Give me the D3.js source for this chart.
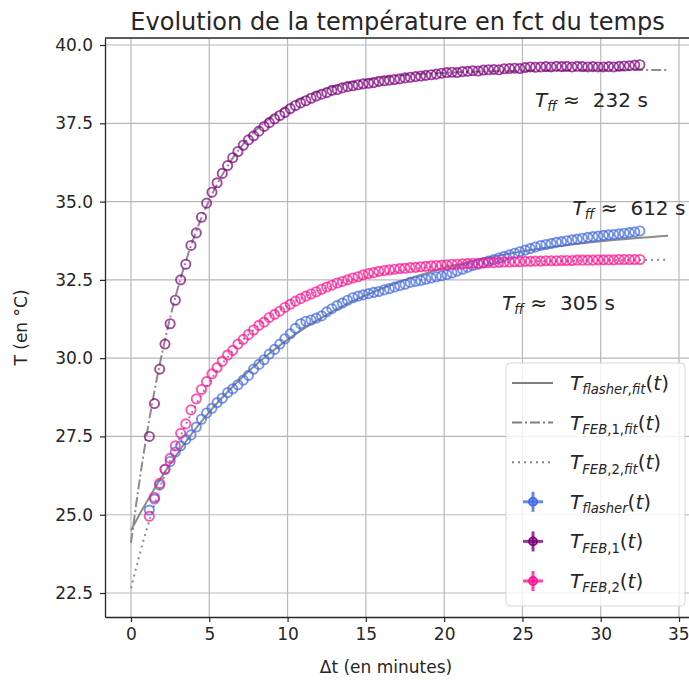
<!DOCTYPE html>
<html><head><meta charset="utf-8">
<script src="https://cdn.jsdelivr.net/npm/d3@7"></script>
<style>body{margin:0;background:#fff} svg{display:block} text{font-family:"DejaVu Sans",sans-serif}</style>
</head><body><svg id="c" width="689" height="684"></svg>
<script>
// ---- data (minutes, °C) ----
const times = [1.17,1.5,1.83,2.17,2.5,2.83,3.17,3.5,3.83,4.17,4.5,4.83,5.17,5.5,5.83,6.17,6.5,6.83,7.17,7.5,7.83,8.17,8.5,8.83,9.17,9.5,9.83,10.17,10.5,10.83,11.17,11.5,11.83,12.17,12.5,12.83,13.17,13.5,13.83,14.17,14.5,14.83,15.17,15.5,15.83,16.17,16.5,16.83,17.17,17.5,17.83,18.17,18.5,18.83,19.17,19.5,19.83,20.17,20.5,20.83,21.17,21.5,21.83,22.17,22.5,22.83,23.17,23.5,23.83,24.17,24.5,24.83,25.17,25.5,25.83,26.17,26.5,26.83,27.17,27.5,27.83,28.17,28.5,28.83,29.17,29.5,29.83,30.17,30.5,30.83,31.17,31.5,31.83,32.17,32.5];
const tFlasher = [25.15,25.5,25.95,26.45,26.7,27.0,27.2,27.4,27.55,27.8,
 28.05,28.25,28.4,28.58,28.72,28.9,29.02,29.15,29.3,29.45,
 29.65,29.8,29.95,30.13,30.28,30.45,30.62,30.78,30.95,31.1,
 31.18,31.22,31.28,31.35,31.48,31.58,31.68,31.76,31.85,31.93,
 31.98,32.02,32.06,32.1,32.13,32.18,32.22,32.27,32.32,32.36,
 32.42,32.45,32.48,32.52,32.56,32.6,32.63,32.67,32.72,32.78,
 32.84,32.9,32.96,33.0,33.05,33.1,33.15,33.2,33.25,33.3,
 33.35,33.4,33.45,33.5,33.55,33.6,33.63,33.66,33.7,33.72,
 33.75,33.78,33.8,33.83,33.86,33.88,33.9,33.92,33.94,33.95,
 33.97,33.99,34.01,34.03,34.06];
const tFeb1 = [27.5,28.55,29.65,30.45,31.1,31.85,32.5,33.0,33.6,34.0,
 34.5,34.95,35.3,35.6,35.9,36.15,36.4,36.6,36.8,36.97,
 37.1,37.25,37.4,37.52,37.64,37.75,37.85,37.97,38.07,38.15,
 38.22,38.3,38.37,38.43,38.48,38.55,38.58,38.63,38.67,38.7,
 38.73,38.76,38.78,38.8,38.84,38.86,38.88,38.9,38.92,38.95,
 38.97,38.99,39.01,39.03,39.05,39.07,39.1,39.12,39.13,39.12,
 39.15,39.16,39.18,39.17,39.2,39.21,39.22,39.21,39.24,39.25,
 39.26,39.25,39.28,39.3,39.29,39.3,39.31,39.3,39.32,39.31,
 39.32,39.3,39.32,39.31,39.3,39.31,39.3,39.3,39.31,39.3,
 39.32,39.33,39.34,39.36,39.37];
const tFeb2 = [24.95,25.55,26.0,26.45,26.8,27.2,27.6,27.9,28.35,28.7,
 29.0,29.25,29.5,29.7,29.9,30.1,30.25,30.45,30.6,30.75,
 30.9,31.05,31.15,31.3,31.4,31.5,31.62,31.72,31.82,31.9,
 31.98,32.05,32.12,32.2,32.27,32.33,32.4,32.45,32.5,32.56,
 32.6,32.66,32.7,32.73,32.77,32.8,32.82,32.84,32.86,32.87,
 32.89,32.9,32.92,32.93,32.95,32.96,32.97,32.98,33.0,33.0,
 33.01,33.02,33.03,33.03,33.04,33.05,33.05,33.06,33.07,33.07,
 33.08,33.08,33.09,33.09,33.1,33.1,33.11,33.11,33.11,33.12,
 33.12,33.12,33.13,33.13,33.13,33.13,33.14,33.14,33.14,33.14,
 33.15,33.15,33.15,33.15,33.15];
const fitTimes   = [0,0.5,1,1.5,2,2.5,3,3.5,4,4.5,5,6,7,8,9,10,12,14,16,18,20,22,25,28,31,34.3];
const fitFlasher = [24.5,24.97,25.41,25.83,26.24,26.62,26.98,27.33,27.66,27.98,28.28,28.83,29.34,29.8,30.21,30.59,31.24,31.78,32.22,32.58,32.88,33.12,33.41,33.62,33.78,33.91];
const fitFeb1    = [24.1,25.93,27.54,28.95,30.19,31.29,32.25,33.09,33.83,34.48,35.05,36.0,36.73,37.29,37.72,38.06,38.52,38.8,38.96,39.06,39.11,39.15,39.18,39.19,39.2,39.2];
const fitFeb2    = [22.65,23.63,24.53,25.33,26.07,26.73,27.33,27.88,28.37,28.82,29.23,29.93,30.5,30.98,31.37,31.68,32.16,32.48,32.7,32.85,32.95,33.01,33.08,33.11,33.13,33.14];
const xTicks = [0,5,10,15,20,25,30,35];
const yTicks = [22.5,25,27.5,30,32.5,35,37.5,40];
const tauLabels = ["232 s","612 s","305 s"];
const tauAnchorT = [25.8,28.2,23.7];
const tauAnchorY = [38.03,34.57,31.54];

// ---- layout ----
const svg = d3.select("#c");
const L=105, R=690, T=38, B=617;
const x = d3.scaleLinear().domain([-1.66,35.70]).range([L,R]);
const y = d3.scaleLinear().domain([21.734,40.224]).range([B,T]);
const colors = {flasher:"#4169e1", feb1:"#800080", feb2:"#ff1493"};
const gray = "#808080";
const ink = "#262626";

// grid
const grid = svg.append("g");
grid.selectAll(".gx").data(xTicks).join("line")
  .attr("x1",d=>x(d)).attr("x2",d=>x(d)).attr("y1",T).attr("y2",B)
  .attr("stroke","#b8b8b8").attr("stroke-width",1.2);
grid.selectAll(".gy").data(yTicks).join("line")
  .attr("y1",d=>y(d)).attr("y2",d=>y(d)).attr("x1",L).attr("x2",R)
  .attr("stroke","#b8b8b8").attr("stroke-width",1.2);

svg.append("clipPath").attr("id","clp").append("rect")
  .attr("x",L).attr("y",T).attr("width",R-L).attr("height",B-T);
const plot = svg.append("g").attr("clip-path","url(#clp)");

// fits
const line = d3.line().x(d=>x(d[0])).y(d=>y(d[1])).curve(d3.curveMonotoneX);
const fits = [
  {vals:fitFlasher, dash:null},
  {vals:fitFeb1, dash:"10,3,2,3"},
  {vals:fitFeb2, dash:"2,4"}
];
fits.forEach(f=>{
  plot.append("path").datum(fitTimes.map((t,i)=>[t,f.vals[i]]))
    .attr("d",line).attr("fill","none").attr("stroke",gray)
    .attr("stroke-width",2).attr("stroke-opacity",0.9)
    .attr("stroke-dasharray",f.dash);
});

// data markers
const series = [
  {vals:tFlasher, c:colors.flasher},
  {vals:tFeb1, c:colors.feb1},
  {vals:tFeb2, c:colors.feb2}
];
series.forEach(s=>{
  const g = plot.append("g");
  g.selectAll("circle").data(times.map((t,i)=>[t,s.vals[i]])).join("circle")
    .attr("cx",d=>x(d[0])).attr("cy",d=>y(d[1])).attr("r",4.6)
    .attr("fill","none").attr("stroke",s.c).attr("stroke-width",1.9).attr("stroke-opacity",0.72);
});

// axes
const fs = 17;
const ax = svg.append("g").attr("transform",`translate(0,${B})`)
  .call(d3.axisBottom(x).tickValues(xTicks).tickSize(5).tickSizeOuter(0).tickPadding(6).tickFormat(d3.format("d")));
const ay = svg.append("g").attr("transform",`translate(${L},0)`)
  .call(d3.axisLeft(y).tickValues(yTicks).tickSize(5).tickSizeOuter(0).tickPadding(7).tickFormat(d3.format(".1f")));
[ax,ay].forEach(a=>{
  a.selectAll("text").attr("font-size",fs).attr("fill",ink).attr("font-family","DejaVu Sans");
  a.selectAll("line").attr("stroke",ink).attr("stroke-width",1.2);
  a.select(".domain").attr("stroke",ink).attr("stroke-width",1.3);
});
// keep the last x tick label inside the picture
ax.selectAll(".tick text").filter(d=>d===35).attr("text-anchor","end").attr("dx",10);
svg.append("line").attr("x1",L).attr("x2",R).attr("y1",T).attr("y2",T).attr("stroke",ink).attr("stroke-width",1.3);
svg.append("line").attr("x1",R).attr("x2",R).attr("y1",T).attr("y2",B).attr("stroke",ink).attr("stroke-width",1.3);

// labels
svg.append("text").attr("x",386).attr("y",673).attr("text-anchor","middle")
  .attr("font-size",17).attr("fill",ink).text("Δt (en minutes)");
svg.append("text").attr("transform",`translate(27,${(T+B)/2}) rotate(-90)`).attr("text-anchor","middle")
  .attr("font-size",17).attr("fill",ink).text("T (en °C)");
svg.append("text").attr("x",(L+R)/2).attr("y",30).attr("text-anchor","middle")
  .attr("font-size",24).attr("fill",ink).text("Evolution de la température en fct du temps");

// math-like label helper: parts = [text, italic, sub]
function mathText(sel, px, py, parts, size){
  const t = sel.append("text").attr("x",px).attr("y",py).attr("font-size",size).attr("fill",ink);
  let shift = 0;
  parts.forEach(p=>{
    const target = p[2] ? size*0.22 : 0;
    t.append("tspan").attr("dy",target-shift)
      .attr("font-size", p[2] ? size*0.66 : size)
      .attr("font-style", p[1] ? "italic" : "normal")
      .text(p[0]);
    shift = target;
  });
  return t;
}

// annotations
const annSize = 20;
tauLabels.forEach((lab,i)=>{
  const t = mathText(svg, x(tauAnchorT[i]), y(tauAnchorY[i]),
    [["T",1,0],["ff",1,1],[" \u2248",0,0]], annSize);
  t.append("tspan").attr("dx",13).attr("font-size",annSize).text(lab);
});

// legend
const lg = svg.append("g");
lg.append("rect").attr("x",506).attr("y",363).attr("width",179).attr("height",243).attr("rx",4)
  .attr("fill","#fff").attr("fill-opacity",0.8).attr("stroke","#d6d6d6");
const legSize = 20;
const legItems = [
  {type:"line", dash:null, parts:[["T",1,0],["flasher",1,1],[",",0,1],["fit",1,1],["(",0,0],["t",1,0],[")",0,0]]},
  {type:"line", dash:"10,3,2,3", parts:[["T",1,0],["FEB",1,1],[",1,",0,1],["fit",1,1],["(",0,0],["t",1,0],[")",0,0]]},
  {type:"line", dash:"2,4", parts:[["T",1,0],["FEB",1,1],[",2,",0,1],["fit",1,1],["(",0,0],["t",1,0],[")",0,0]]},
  {type:"err", c:colors.flasher, parts:[["T",1,0],["flasher",1,1],["(",0,0],["t",1,0],[")",0,0]]},
  {type:"err", c:colors.feb1, parts:[["T",1,0],["FEB",1,1],[",1",0,1],["(",0,0],["t",1,0],[")",0,0]]},
  {type:"err", c:colors.feb2, parts:[["T",1,0],["FEB",1,1],[",2",0,1],["(",0,0],["t",1,0],[")",0,0]]}
];
legItems.forEach((it,i)=>{
  const ry = 383 + i*39.6;
  if(it.type==="line"){
    lg.append("line").attr("x1",512).attr("x2",553).attr("y1",ry).attr("y2",ry)
      .attr("stroke",gray).attr("stroke-width",2).attr("stroke-dasharray",it.dash);
  } else {
    lg.append("line").attr("x1",523).attr("x2",543).attr("y1",ry).attr("y2",ry).attr("stroke",it.c).attr("stroke-width",3).attr("stroke-opacity",0.8);
    lg.append("line").attr("x1",533).attr("x2",533).attr("y1",ry-10).attr("y2",ry+10).attr("stroke",it.c).attr("stroke-width",3).attr("stroke-opacity",0.8);
    lg.append("circle").attr("cx",533).attr("cy",ry).attr("r",4).attr("fill",it.c).attr("fill-opacity",0.5).attr("stroke",it.c).attr("stroke-width",1.8);
  }
  mathText(lg, 570, ry+7, it.parts, legSize);
});
</script></body></html>
